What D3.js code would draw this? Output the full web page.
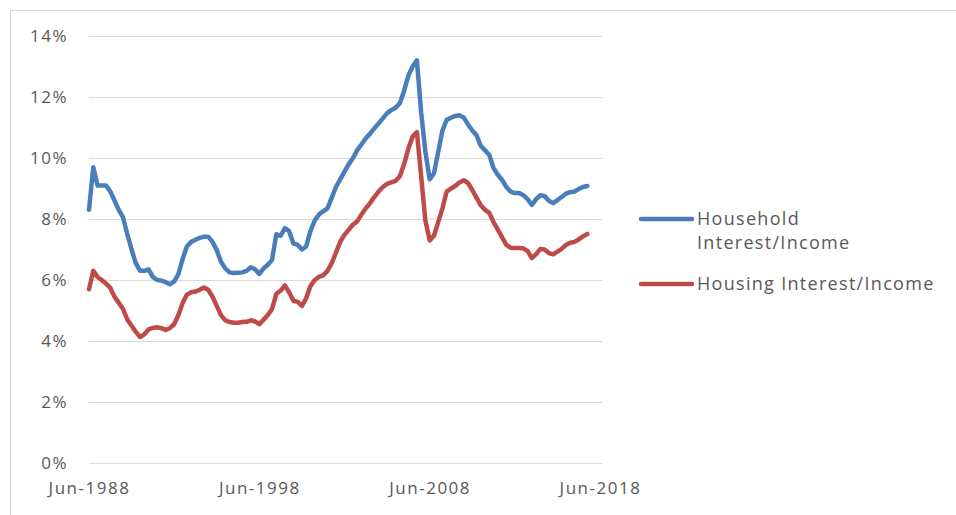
<!DOCTYPE html>
<html>
<head>
<meta charset="utf-8">
<script src="https://cdn.jsdelivr.net/npm/d3@7"></script>
<style>
  body { margin: 0; background: #fff; }
  text { font-family: "Open Sans", "Liberation Sans", sans-serif; fill: #595959; }
  .grid line { stroke: #d9d9d9; stroke-width: 1; }
  .line { fill: none; stroke-width: 4.5; stroke-linejoin: round; stroke-linecap: round; }
</style>
</head>
<body>
<div id="chart"></div>
<script>
// quarterly series, first point Jun-1988
const startMonth = "1988-06";
const household = [
  8.3, 9.7, 9.1, 9.1, 9.1, 8.9, 8.6, 8.3, 8.05, 7.5,
  7.0, 6.55, 6.3, 6.3, 6.35, 6.1, 6.0, 5.98, 5.93, 5.86,
  5.95, 6.2, 6.7, 7.1, 7.25, 7.32, 7.38, 7.42, 7.42, 7.25,
  6.98, 6.6, 6.38, 6.25, 6.23, 6.24, 6.25, 6.3, 6.42, 6.35,
  6.2, 6.38, 6.5, 6.66, 7.5, 7.45, 7.7, 7.6, 7.2, 7.15,
  7.0, 7.1, 7.6, 7.95, 8.15, 8.25, 8.35, 8.7, 9.05, 9.3,
  9.55, 9.8, 10.0, 10.26, 10.45, 10.65, 10.8, 10.97, 11.13, 11.3,
  11.47, 11.57, 11.65, 11.8, 12.2, 12.7, 13.0, 13.2, 11.5, 10.2,
  9.3, 9.5, 10.2, 10.9, 11.25, 11.32, 11.38, 11.4, 11.33, 11.1,
  10.9, 10.75, 10.4, 10.25, 10.1, 9.67, 9.45, 9.28, 9.05, 8.9,
  8.85, 8.85, 8.78, 8.65, 8.46, 8.65, 8.78, 8.75, 8.6, 8.52,
  8.62, 8.72, 8.83, 8.88, 8.9, 8.98, 9.05, 9.08
];
const housing = [
  5.7, 6.3, 6.1, 6.0, 5.88, 5.74, 5.45, 5.25, 5.05, 4.7,
  4.5, 4.3, 4.13, 4.22, 4.38, 4.43, 4.45, 4.42, 4.36, 4.42,
  4.55, 4.85, 5.25, 5.52, 5.6, 5.62, 5.68, 5.75, 5.68, 5.45,
  5.15, 4.85, 4.68, 4.62, 4.6, 4.6, 4.62, 4.63, 4.68, 4.64,
  4.55, 4.7, 4.85, 5.05, 5.55, 5.65, 5.82, 5.6, 5.32, 5.28,
  5.15, 5.4, 5.8, 6.0, 6.1, 6.15, 6.3, 6.55, 6.9, 7.25,
  7.48, 7.65, 7.82, 7.92, 8.15, 8.35, 8.52, 8.72, 8.9, 9.05,
  9.15, 9.2, 9.25, 9.4, 9.8, 10.3, 10.7, 10.85, 9.4, 7.95,
  7.3, 7.45, 7.9, 8.35, 8.9, 9.0, 9.08, 9.2, 9.27, 9.18,
  8.95, 8.7, 8.45, 8.3, 8.2, 7.9, 7.65, 7.4, 7.15, 7.06,
  7.05, 7.05, 7.04, 6.95, 6.72, 6.85, 7.02, 7.0, 6.88, 6.84,
  6.93, 7.02, 7.15, 7.22, 7.25, 7.33, 7.43, 7.51
];
const seriesNames = ["Household Interest/Income", "Housing Interest/Income"];
const xTickLabels = ["1988-06", "1998-06", "2008-06", "2018-06"];
const yTicks = [0, 2, 4, 6, 8, 10, 12, 14];

const W = 956, H = 515;
const margin = {top: 36, right: 356, bottom: 52, left: 89};
const width = W - margin.left - margin.right;
const height = H - margin.top - margin.bottom;

const parseMonth = d3.timeParse("%Y-%m");
const start = parseMonth(startMonth);
const dates = household.map((d, i) => d3.timeMonth.offset(start, i * 3));

const svg = d3.select("#chart")
  .append("svg")
  .attr("width", W)
  .attr("height", H);

// outer frame (top and left edges visible)
svg.append("line").attr("x1", 10).attr("x2", W).attr("y1", 10.5).attr("y2", 10.5)
  .attr("stroke", "#d9d9d9");
svg.append("line").attr("x1", 10.5).attr("x2", 10.5).attr("y1", 10).attr("y2", H)
  .attr("stroke", "#d9d9d9");

const g = svg.append("g")
  .attr("transform", `translate(${margin.left},${margin.top})`);

const x = d3.scaleTime()
  .domain([parseMonth(xTickLabels[0]), parseMonth(xTickLabels[xTickLabels.length - 1])])
  .range([0, width]);
const y = d3.scaleLinear().domain([0, 14]).range([height, 0]);

// gridlines + y labels
const yAxis = d3.axisLeft(y)
  .tickValues(yTicks)
  .tickSize(-width - 2)
  .tickPadding(21)
  .tickFormat(d => d + "%");
g.append("g")
  .attr("class", "grid")
  .call(yAxis)
  .call(s => s.select(".domain").remove())
  .call(s => s.selectAll("text").style("font-size", "17px").style("letter-spacing", "1.5px"));

// x labels
const xAxis = d3.axisBottom(x)
  .tickValues(xTickLabels.map(parseMonth))
  .tickSize(0)
  .tickPadding(19)
  .tickFormat(d3.timeFormat("%b-%Y"));
g.append("g")
  .attr("transform", `translate(0,${height})`)
  .call(xAxis)
  .call(s => s.select(".domain").remove())
  .call(s => s.selectAll("text").style("font-size", "17px").style("letter-spacing", "1.5px"));

const colors = ["#4a7ebb", "#be4b48"];
const data = [household, housing];

const line = d3.line()
  .x((d, i) => x(dates[i]))
  .y(d => y(d));

g.selectAll(".line")
  .data(data)
  .enter().append("path")
  .attr("class", "line")
  .attr("stroke", (d, i) => colors[i])
  .attr("d", line);

// legend
const legend = svg.append("g");
const legendItems = [
  {lines: ["Household", "Interest/Income"], y: 219},
  {lines: ["Housing Interest/Income"], y: 284}
];
legendItems.forEach((item, i) => {
  legend.append("line")
    .attr("x1", 641).attr("x2", 692)
    .attr("y1", item.y).attr("y2", item.y)
    .attr("stroke", colors[i])
    .attr("stroke-width", 4.5)
    .attr("stroke-linecap", "round");
  item.lines.forEach((t, j) => {
    legend.append("text")
      .attr("x", 697)
      .attr("y", item.y + j * 24)
      .attr("dy", "0.35em")
      .style("font-size", "18px")
      .style("letter-spacing", "1.3px")
      .text(t);
  });
});
</script>
</body>
</html>
